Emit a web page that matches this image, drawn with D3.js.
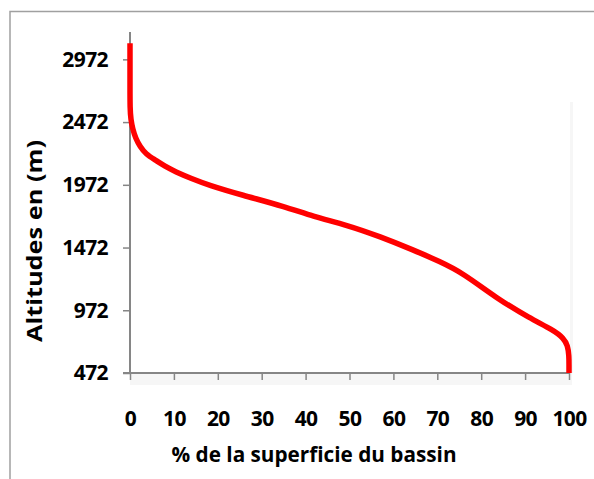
<!DOCTYPE html>
<html>
<head>
<meta charset="utf-8">
<script src="https://cdn.jsdelivr.net/npm/d3@7"></script>
<style>
  html, body { margin: 0; padding: 0; background: #fff; }
  svg { display: block; }
  text { font-family: "Open Sans", "DejaVu Sans", sans-serif; font-weight: 700; fill: #000; }
</style>
</head>
<body>
<svg id="chart" width="594" height="479"></svg>
<script>
// ---- data ----
const pctArea = [0, 0, 0, 0, 0.2, 0.6, 1.3, 2.3, 3.6, 5.7, 8, 10.3, 14, 17.8, 25.4, 35.3, 41.8, 49.4, 57, 64.5, 70.6, 75.9, 83.5, 91.1, 96.4, 98.8, 99.7, 100, 100, 100];
const altitude = [3100, 2950, 2750, 2580, 2490, 2420, 2340, 2277, 2218, 2171, 2118, 2077, 2022, 1971, 1891, 1798, 1718, 1652, 1559, 1453, 1360, 1267, 1068, 908, 815, 750, 690, 610, 530, 472];
const xTicks = [0, 10, 20, 30, 40, 50, 60, 70, 80, 90, 100];
const yTicks = [472, 972, 1472, 1972, 2472, 2972];
const xTitle = "% de la superficie du bassin";
const yTitle = "Altitudes en (m)";

// ---- layout ----
const svg = d3.select("#chart");
const plot = { left: 130, right: 569, top: 32, bottom: 373 };
const x = d3.scaleLinear().domain([0, 100]).range([plot.left, plot.right]);
const y = d3.scaleLinear().domain([472, 3190]).range([plot.bottom, plot.top]);

// outer border (only top and left visible)
svg.append("rect").attr("x", 10).attr("y", 11.5).attr("width", 600).attr("height", 480)
  .attr("fill", "none").attr("stroke", "#a0a0a0").attr("stroke-width", 1.5);

// subtle shadows of plot area
svg.append("rect").attr("x", plot.left).attr("y", plot.bottom).attr("width", plot.right - plot.left + 3).attr("height", 12)
  .attr("fill", "#f6f6f6");
svg.append("rect").attr("x", plot.right + 1).attr("y", plot.top + 70).attr("width", 3).attr("height", plot.bottom - plot.top - 70)
  .attr("fill", "#f6f6f6");

// axes
const axisColor = "#868686";
const fmt = d3.format("d");
const gx = svg.append("g").attr("transform", `translate(0,${plot.bottom})`)
  .call(d3.axisBottom(x).tickValues(xTicks).tickFormat(fmt).tickSize(7).tickSizeOuter(0).tickPadding(31));
const gy = svg.append("g").attr("transform", `translate(${plot.left},0)`)
  .call(d3.axisLeft(y).tickValues(yTicks).tickFormat(fmt).tickSize(7).tickSizeOuter(0).tickPadding(15));
[gx, gy].forEach(g => {
  g.select(".domain").attr("stroke", axisColor).attr("stroke-width", 2);
  g.selectAll(".tick line").attr("stroke", axisColor).attr("stroke-width", 1.5);
  g.selectAll(".tick text").attr("font-size", 21).attr("font-family", "'Open Sans', sans-serif")
    .attr("font-weight", 700).attr("fill", "#000").attr("letter-spacing", -0.6);
});
gy.select(".domain").attr("d", `M0,${plot.top}V${plot.bottom}`);
gx.select(".domain").attr("d", `M${plot.left - 7},0H${plot.right}`);

// curve
const line = d3.line().x((d, i) => x(pctArea[i])).y((d, i) => y(altitude[i]))
  .curve(d3.curveBasis);
svg.append("path").datum(altitude).attr("d", line)
  .attr("fill", "none").attr("stroke", "#ff0000").attr("stroke-width", 5.5)
  .attr("stroke-linejoin", "round").attr("stroke-linecap", "butt");

// titles
svg.append("text").attr("x", 314).attr("y", 462).attr("text-anchor", "middle")
  .attr("font-size", 22).attr("textLength", 285).attr("lengthAdjust", "spacingAndGlyphs")
  .text(xTitle);
svg.append("text").attr("transform", "translate(42,241) rotate(-90)").attr("text-anchor", "middle")
  .attr("font-size", 22).attr("textLength", 202).attr("lengthAdjust", "spacingAndGlyphs")
  .text(yTitle);
</script>
</body>
</html>
